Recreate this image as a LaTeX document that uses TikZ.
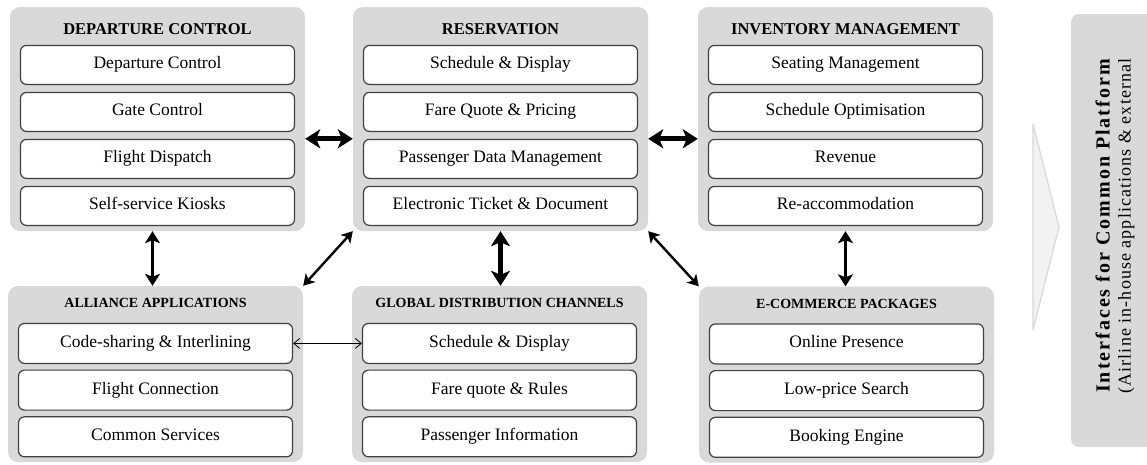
\documentclass[tikz,border=0pt]{standalone}
\usepackage{fontspec}
\setmainfont{Liberation Serif}
\usepackage{xcolor}
\usetikzlibrary{arrows.meta,positioning,calc}
\definecolor{panelgray}{HTML}{D9D9D9}
\definecolor{chevgray}{HTML}{F2F2F2}
\definecolor{boxline}{HTML}{404040}

\begin{document}
\begin{tikzpicture}[x=1pt, y=-1pt]
        % Style definitions
        \tikzset{
            panel/.style={draw=none, fill=panelgray, rectangle, rounded corners=10pt, minimum width=295pt, inner sep=0pt},
            toppanel/.style={panel, minimum height=224pt},
            botpanel/.style={panel, minimum height=176pt},
            toptitle/.style={font=\fontsize{16.5}{18}\selectfont\bfseries, inner sep=0pt},
            bottitle/.style={font=\fontsize{14}{16}\selectfont\bfseries, inner sep=0pt},
            item/.style={draw=boxline, fill=white, rectangle, rounded corners=6pt, line width=1.2pt, minimum width=274pt, minimum height=39pt, inner sep=0pt, text height=12pt, text depth=4pt, font=\fontsize{17.5}{20}\selectfont},
            botitem/.style={item, minimum height=40pt},
            bigarrow/.style={arrows={Stealth[length=15pt,width=19pt,inset=4pt]-Stealth[length=15pt,width=19pt,inset=4pt]}, line width=5pt},
            midarrow/.style={arrows={Stealth[length=12pt,width=15pt,inset=3pt]-Stealth[length=12pt,width=15pt,inset=3pt]}, line width=3pt},
            diagarrow/.style={arrows={Stealth[length=11pt,width=13pt,inset=3pt]-Stealth[length=11pt,width=13pt,inset=3pt]}, line width=2.4pt},
            thinarrow/.style={arrows={Straight Barb[length=6pt,width=10pt]-Straight Barb[length=6pt,width=10pt]}, line width=0.8pt},
            sidebox/.style={draw=none, fill=panelgray, rectangle, rounded corners=8pt, minimum width=100pt, minimum height=433pt},
            chevron/.style={draw=panelgray, fill=chevgray, line width=1.2pt, line join=round},
            sidetext/.style={rotate=90, align=center, inner sep=0pt, font=\fontsize{18}{21}\selectfont}
        }
        \useasboundingbox (0,0) rectangle (1147,464);
        \clip (0,0) rectangle (1147,464);

        % Panels
        \node [toppanel] (dep) at (157.5,119) {};
        \node [toppanel] (res) at (500.5,119) {};
        \node [toppanel] (inv) at (845.5,119) {};
        \node [botpanel] (all) at (155.5,374) {};
        \node [botpanel] (gdc) at (499.5,374) {};
        \node [botpanel] (ecom) at (846.5,374.5) {};

        % Departure control
        \node [toptitle] at ($(dep.north)+(0,22)$) {DEPARTURE CONTROL};
        \node [item, below=38pt of dep.north] (dep1) {Departure Control};
        \node [item, below=6.8pt of dep1] (dep2) {Gate Control};
        \node [item, below=6.8pt of dep2] (dep3) {Flight Dispatch};
        \node [item, below=6.8pt of dep3] (dep4) {Self-service Kiosks};

        % Reservation
        \node [toptitle] at ($(res.north)+(0,22)$) {RESERVATION};
        \node [item, below=38pt of res.north] (res1) {Schedule \& Display};
        \node [item, below=6.8pt of res1] (res2) {Fare Quote \& Pricing};
        \node [item, below=6.8pt of res2] (res3) {Passenger Data Management};
        \node [item, below=6.8pt of res3] (res4) {Electronic Ticket \& Document};

        % Inventory management
        \node [toptitle] at ($(inv.north)+(0,22)$) {INVENTORY MANAGEMENT};
        \node [item, below=38pt of inv.north] (inv1) {Seating Management};
        \node [item, below=6.8pt of inv1] (inv2) {Schedule Optimisation};
        \node [item, below=6.8pt of inv2] (inv3) {Revenue};
        \node [item, below=6.8pt of inv3] (inv4) {Re-accommodation};

        % Alliance applications
        \node [bottitle] at ($(all.north)+(0,17)$) {ALLIANCE APPLICATIONS};
        \node [botitem, below=37pt of all.north] (all1) {Code-sharing \& Interlining};
        \node [botitem, below=5.5pt of all1] (all2) {Flight Connection};
        \node [botitem, below=5.5pt of all2] (all3) {Common Services};

        % Global distribution channels
        \node [bottitle] at ($(gdc.north)+(0,17)$) {GLOBAL DISTRIBUTION CHANNELS};
        \node [botitem, below=37pt of gdc.north] (gdc1) {Schedule \& Display};
        \node [botitem, below=5.5pt of gdc1] (gdc2) {Fare quote \& Rules};
        \node [botitem, below=5.5pt of gdc2] (gdc3) {Passenger Information};

        % E-commerce packages
        \node [bottitle] at ($(ecom.north)+(0,18)$) {E-COMMERCE PACKAGES};
        \node [botitem, below=37pt of ecom.north] (ecom1) {Online Presence};
        \node [botitem, below=5.5pt of ecom1] (ecom2) {Low-price Search};
        \node [botitem, below=5.5pt of ecom2] (ecom3) {Booking Engine};

        % Connections
        \draw [bigarrow] (dep.east |- dep3.north) -- (res.west |- dep3.north);
        \draw [bigarrow] (res.east |- res3.north) -- (inv.west |- res3.north);
        \draw [bigarrow] (res.south) -- (res.south |- gdc.north);
        \draw [midarrow] ([xshift=-5pt]dep.south) -- ([xshift=-5pt]dep.south |- all.north);
        \draw [midarrow] (inv.south) -- (inv.south |- ecom.north);
        \draw [diagarrow] (res.south west) -- (all.north east);
        \draw [diagarrow] (res.south east) -- (ecom.north west);
        \draw [thinarrow] (all1.east) -- (gdc1.west);

        % Common platform
        \draw [chevron] (1033,124) -- (1059,227) -- (1033,330) -- cycle;
        \node [sidebox] (side) at (1121,230.5) {};
        \node [sidetext] (sidetxt) at (1115,226) {{\fontsize{20}{21}\selectfont\bfseries\addfontfeature{LetterSpace=10}Interfaces for Common Platform}\\{\addfontfeature{LetterSpace=6}(Airline in-house applications \& external}};
    \end{tikzpicture}
\end{document}
